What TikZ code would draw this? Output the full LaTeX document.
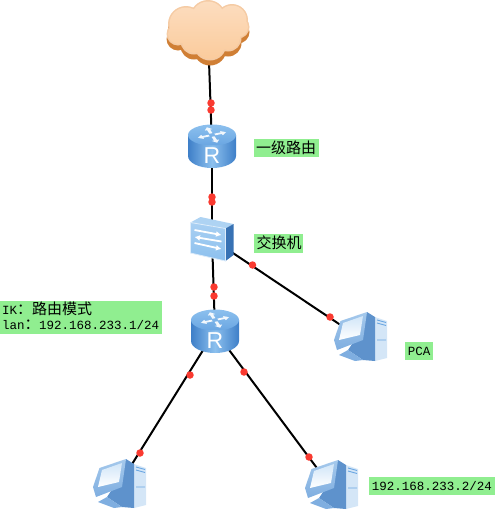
\documentclass[tikz,border=0pt]{standalone}
\usepackage{fontspec}
\setmainfont{Liberation Mono}
\newfontfamily\cjk{Noto Sans CJK SC}
\newfontfamily\latn{Liberation Mono}
\newfontfamily\rfont{Liberation Sans}
\usetikzlibrary{arrows.meta}
\definecolor{lbl}{HTML}{90EE90}
\definecolor{rtop}{HTML}{6AA6E2}
\definecolor{rdark}{HTML}{3E7FC8}
\definecolor{rlite}{HTML}{8CC0EE}
\definecolor{dotred}{HTML}{FA3A30}
\definecolor{pctower}{HTML}{D4E6F7}
\definecolor{pcback}{HTML}{5E92CC}
\definecolor{pcframet}{HTML}{A5C9EC}
\definecolor{pcframeb}{HTML}{7FAEE0}
\definecolor{cshadow}{HTML}{D07F35}
\definecolor{cedge}{HTML}{F5CBA4}
\definecolor{ctop}{HTML}{FCDDBF}
\definecolor{cbot}{HTML}{FBCB9C}
\tikzset{
  x=1pt,y=-1pt,
  conn/.style={draw=black,line width=2pt},
  anchorpt/.style={inner sep=0pt,minimum size=0pt},
  reddot/.style={circle,fill=dotred,inner sep=0pt,minimum size=7.5pt},
  lblbox/.style={fill=lbl,draw=none,inner sep=0pt,anchor=north west,text=black},
  txt/.style={font=\fontsize{12.5}{15}\selectfont\latn,text=black,inner sep=0pt},
  routericon/.pic={
    \shade[left color=rdark,right color=rdark,middle color=rlite]
      (-24,-11) -- (-24,10) arc[x radius=24,y radius=12,start angle=180,end angle=0] -- (24,-11) -- cycle;
    \shade[top color=rlite,bottom color=rtop] (0,-11) ellipse[x radius=24,y radius=10.5];
    \foreach \a in {20,110,200,290}{
      \begin{scope}[shift={(0,-11)},yscale=0.55,rotate=\a]
        \fill[white,opacity=.9] (3,-1.6) -- (10,-1.6) -- (10,-4) -- (15,0) -- (10,4) -- (10,1.6) -- (3,1.6) -- cycle;
      \end{scope}}
    \node[text=white,inner sep=0pt,font=\fontsize{23}{23}\selectfont\rfont] at (0,9.5) {R};
  },
  switchicon/.pic={
    \fill[rlite!70!white] (0,5.5) -- (10,0) -- (43,7) -- (35,11.5) -- cycle;
    \fill[rdark!90!black] (35,11.5) -- (43,7) -- (43,38) -- (35,44) -- cycle;
    \shade[top color=rlite!75!white,bottom color=rlite,draw=rlite!30!white,line width=.8pt] (0,5.5) -- (35,11.5) -- (35,44) -- (0,36) -- cycle;
    \draw[white,line width=1.8pt,-{Latex[length=5.5pt,width=6pt]}] (4,13) -- (31,18);
    \draw[white,line width=1.8pt,{Latex[length=5.5pt,width=6pt]}-] (4,20) -- (31,24.5);
    \draw[white,line width=1.8pt,-{Latex[length=5.5pt,width=6pt]}] (4,26) -- (31,32);
  },
  pcicon/.pic={
    % tower
    \fill[pctower] (41,4) -- (53,8) -- (53,45) -- (41,48) -- cycle;
    \draw[rtop,line width=.9pt] (43,7) -- (52,9.5) (43,10) -- (52,12.5) (43,27) -- (52,27);
    % back of monitor
    \fill[pcback] (33,-1) -- (41,4) -- (41,48) -- (29,47) -- (14,37) -- (20,28) -- cycle;
    % base
    \fill[pcframeb] (5,42) -- (14,37) -- (29,47) -- (21,48) -- cycle;
    % monitor frame
    \shade[top color=pcframet,bottom color=pcframeb] (0,27) -- (6.5,8) -- (33,-1) -- (29,27) -- (3,37) -- cycle;
    % screen
    \shade[top color=rlite!40!white,bottom color=white] (5,27) -- (9,10) -- (29,3) -- (26,22) -- cycle;
  },
}
\begin{document}
\begin{tikzpicture}
\useasboundingbox (0,0) rectangle (496,512);
% named anchors
\node[anchorpt] (cloud) at (208,33) {};
\node[anchorpt] (r1) at (212,146) {};
\node[anchorpt] (sw) at (212,239) {};
\node[anchorpt] (r2) at (215,331) {};
\node[anchorpt] (pca) at (360,338) {};
\node[anchorpt] (pcb) at (331,487) {};
\node[anchorpt] (pcc) at (119,485) {};
% connectors
\draw[conn] (cloud) -- (r1);
\draw[conn] (r1) -- (sw);
\draw[conn] (sw) -- (r2);
\draw[conn] (sw) -- (pca);
\draw[conn] (r2) -- (pcb);
\draw[conn] (r2) -- (pcc);
% cloud
\begin{scope}[shift={(0,5)}]
\fill[cshadow] (186,24) circle[radius=18] (208,18) circle[radius=18] (232,20) circle[radius=16] (178,34) circle[radius=11.5]
  (194,41) circle[radius=13.5] (210,44) circle[radius=16.5] (228,38) circle[radius=13.5] (238,27) circle[radius=11.5] (205,30) circle[radius=20];
\end{scope}
\fill[cedge] (186,24) circle[radius=18] (208,18) circle[radius=18] (232,20) circle[radius=16] (178,34) circle[radius=11.5]
  (194,41) circle[radius=13.5] (210,44) circle[radius=16.5] (228,38) circle[radius=13.5] (238,27) circle[radius=11.5] (205,30) circle[radius=20];
\shade[top color=ctop,bottom color=cbot] (186,24) circle[radius=16.5] (208,18) circle[radius=16.5] (232,20) circle[radius=14.5] (178,34) circle[radius=10]
  (194,41) circle[radius=12] (210,44) circle[radius=15] (228,38) circle[radius=12] (238,27) circle[radius=10] (205,30) circle[radius=20];
% icons
\pic at (r1) {routericon};
\pic at (r2) {routericon};
\pic at (190.5,217) {switchicon};
\pic at (334,313) {pcicon};
\pic at (305,461) {pcicon};
\pic at (93,460) {pcicon};
% red dots
\foreach \n/\p in {a/{211,103},b/{211,110},c/{212,197},d/{212,202},e/{214,287},f/{214,296},g/{252.5,265},h/{330,317},i/{190,375},j/{244,372},k/{140,453},l/{309,457}}{
  \node[reddot] (dot\n) at (\p) {};
}
% labels
\node[lblbox,minimum width=65pt,minimum height=18pt] (l1) at (254,139) {};
\node[txt,font=\fontsize{15}{15}\selectfont\cjk] (l1t) at (286,147.5) {一级路由};
\node[lblbox,minimum width=49pt,minimum height=19pt] (l2) at (254,234) {};
\node[txt,font=\fontsize{15}{15}\selectfont\cjk] (l2t) at (279,243) {交换机};
\node[lblbox,minimum width=162pt,minimum height=33pt] (l3) at (0,301) {};
\node[txt,anchor=west] (l3a) at (2,309) {IK{\fontsize{15}{15}\selectfont\cjk ：路由模式}};
\node[txt,anchor=west] (l3b) at (2,325) {lan{\fontsize{15}{15}\selectfont\cjk ：}\kern-0.5pt 192.168.233.1/24};
\node[lblbox,minimum width=28pt,minimum height=18pt] (l4) at (405,342) {};
\node[txt] (l4t) at (419,351) {PCA};
\node[lblbox,minimum width=126pt,minimum height=18pt] (l5) at (369,477) {};
\node[txt] (l5t) at (432,486) {192.168.233.2/24};
\end{tikzpicture}
\end{document}
